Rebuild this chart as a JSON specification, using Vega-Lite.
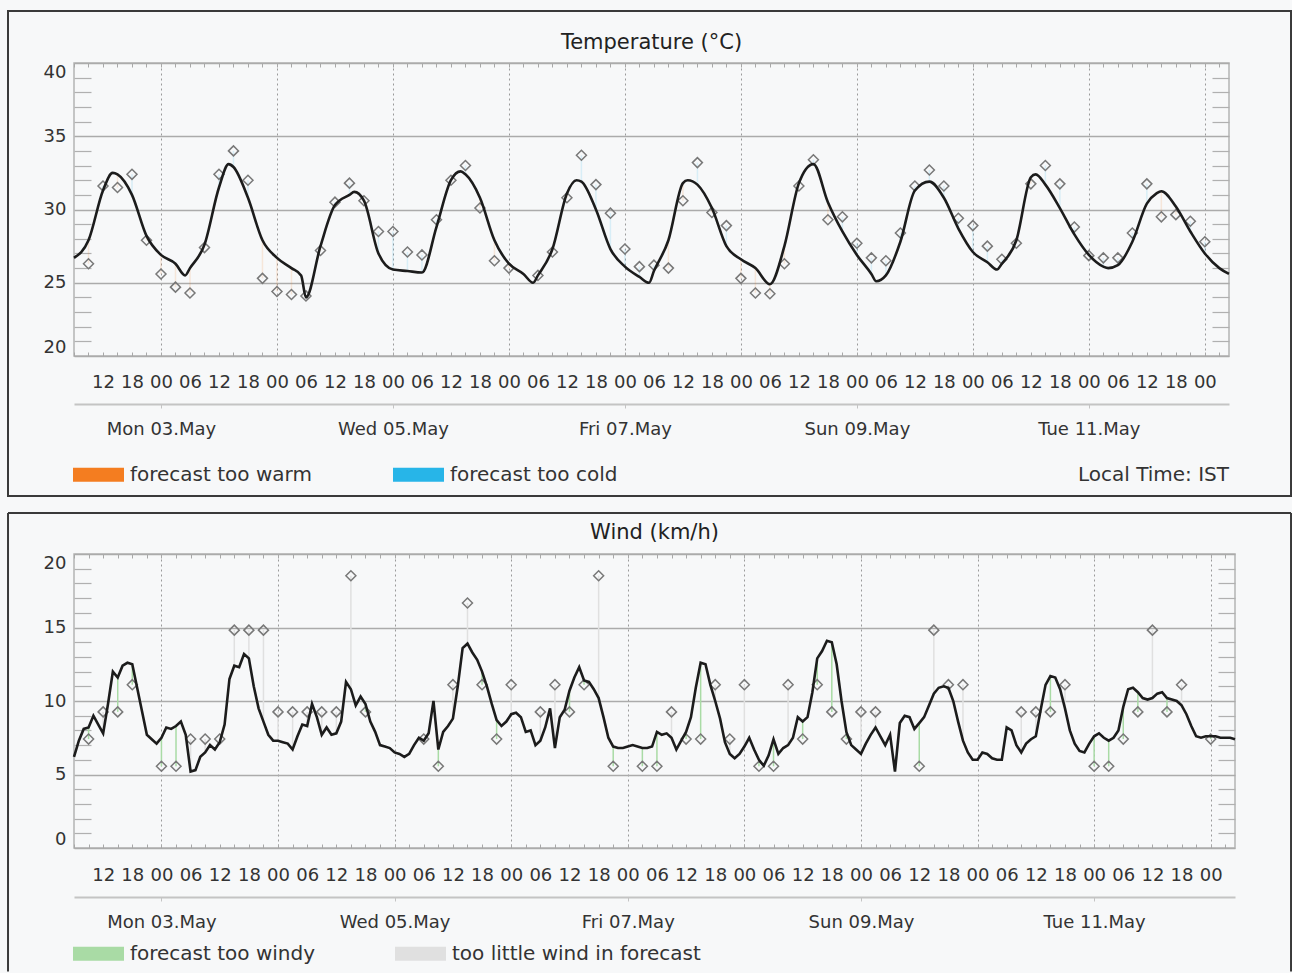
{
  "$schema": "https://vega.github.io/schema/vega-lite/v6.json",
  "background": "#f7f8f9",
  "padding": {"left": 6, "top": 9, "right": 0, "bottom": 0},
  "spacing": 198,
  "bounds": "flush",
  "resolve": {"scale": {"x": "independent", "y": "independent", "color": "independent"}},
  "config": {
    "view": {"stroke": "#b4b4b4", "strokeWidth": 1.5},
    "font": "DejaVu Sans",
    "axis": {"labelFont": "DejaVu Sans", "labelFontSize": 18, "labelColor": "#333333"}
  },
  "datasets": {
    "tfc": [
      {"t": "2021-05-02T06:00", "fc": 26.7}, {"t": "2021-05-02T09:00", "fc": 27.9}, {"t": "2021-05-02T12:00", "fc": 31.3}, {"t": "2021-05-02T14:00", "fc": 32.5}, {"t": "2021-05-02T15:00", "fc": 32.4}, {"t": "2021-05-02T18:00", "fc": 31.0}, {"t": "2021-05-02T21:00", "fc": 28.2},
      {"t": "2021-05-03T00:00", "fc": 26.9}, {"t": "2021-05-03T03:00", "fc": 26.3}, {"t": "2021-05-03T05:00", "fc": 25.5}, {"t": "2021-05-03T06:00", "fc": 26.0}, {"t": "2021-05-03T09:00", "fc": 27.6}, {"t": "2021-05-03T12:00", "fc": 31.5}, {"t": "2021-05-03T14:00", "fc": 33.1}, {"t": "2021-05-03T15:00", "fc": 32.9}, {"t": "2021-05-03T18:00", "fc": 30.8}, {"t": "2021-05-03T21:00", "fc": 27.9},
      {"t": "2021-05-04T00:00", "fc": 26.7}, {"t": "2021-05-04T03:00", "fc": 26.0}, {"t": "2021-05-04T05:00", "fc": 25.5}, {"t": "2021-05-04T06:00", "fc": 24.0}, {"t": "2021-05-04T09:00", "fc": 27.5}, {"t": "2021-05-04T12:00", "fc": 30.3}, {"t": "2021-05-04T15:00", "fc": 31.0}, {"t": "2021-05-04T16:00", "fc": 31.2}, {"t": "2021-05-04T18:00", "fc": 30.6}, {"t": "2021-05-04T21:00", "fc": 27.0},
      {"t": "2021-05-05T00:00", "fc": 25.9}, {"t": "2021-05-05T03:00", "fc": 25.8}, {"t": "2021-05-05T06:00", "fc": 25.7}, {"t": "2021-05-05T09:00", "fc": 28.8}, {"t": "2021-05-05T12:00", "fc": 32.0}, {"t": "2021-05-05T14:00", "fc": 32.6}, {"t": "2021-05-05T15:00", "fc": 32.4}, {"t": "2021-05-05T18:00", "fc": 30.8}, {"t": "2021-05-05T21:00", "fc": 27.9},
      {"t": "2021-05-06T00:00", "fc": 26.3}, {"t": "2021-05-06T03:00", "fc": 25.6}, {"t": "2021-05-06T05:00", "fc": 25.0}, {"t": "2021-05-06T06:00", "fc": 25.5}, {"t": "2021-05-06T09:00", "fc": 27.3}, {"t": "2021-05-06T12:00", "fc": 31.1}, {"t": "2021-05-06T14:00", "fc": 32.0}, {"t": "2021-05-06T15:00", "fc": 31.9}, {"t": "2021-05-06T18:00", "fc": 30.0}, {"t": "2021-05-06T21:00", "fc": 27.3},
      {"t": "2021-05-07T00:00", "fc": 26.1}, {"t": "2021-05-07T03:00", "fc": 25.4}, {"t": "2021-05-07T05:00", "fc": 25.0}, {"t": "2021-05-07T06:00", "fc": 25.8}, {"t": "2021-05-07T09:00", "fc": 27.9}, {"t": "2021-05-07T12:00", "fc": 31.8}, {"t": "2021-05-07T13:00", "fc": 32.0}, {"t": "2021-05-07T15:00", "fc": 31.7}, {"t": "2021-05-07T18:00", "fc": 30.1}, {"t": "2021-05-07T21:00", "fc": 27.5},
      {"t": "2021-05-08T00:00", "fc": 26.6}, {"t": "2021-05-08T03:00", "fc": 26.0}, {"t": "2021-05-08T06:00", "fc": 24.9}, {"t": "2021-05-08T09:00", "fc": 27.5}, {"t": "2021-05-08T12:00", "fc": 31.8}, {"t": "2021-05-08T15:00", "fc": 33.1}, {"t": "2021-05-08T18:00", "fc": 30.5}, {"t": "2021-05-08T21:00", "fc": 28.5},
      {"t": "2021-05-09T00:00", "fc": 26.9}, {"t": "2021-05-09T03:00", "fc": 25.6}, {"t": "2021-05-09T04:00", "fc": 25.1}, {"t": "2021-05-09T06:00", "fc": 25.5}, {"t": "2021-05-09T09:00", "fc": 27.8}, {"t": "2021-05-09T12:00", "fc": 31.3}, {"t": "2021-05-09T15:00", "fc": 31.9}, {"t": "2021-05-09T18:00", "fc": 30.8}, {"t": "2021-05-09T21:00", "fc": 28.7},
      {"t": "2021-05-10T00:00", "fc": 27.1}, {"t": "2021-05-10T03:00", "fc": 26.4}, {"t": "2021-05-10T05:00", "fc": 25.9}, {"t": "2021-05-10T06:00", "fc": 26.3}, {"t": "2021-05-10T09:00", "fc": 27.9}, {"t": "2021-05-10T12:00", "fc": 32.2}, {"t": "2021-05-10T13:00", "fc": 32.4}, {"t": "2021-05-10T15:00", "fc": 31.7}, {"t": "2021-05-10T18:00", "fc": 30.1}, {"t": "2021-05-10T21:00", "fc": 28.3},
      {"t": "2021-05-11T00:00", "fc": 26.9}, {"t": "2021-05-11T03:00", "fc": 26.1}, {"t": "2021-05-11T04:00", "fc": 26.0}, {"t": "2021-05-11T06:00", "fc": 26.2}, {"t": "2021-05-11T09:00", "fc": 27.8}, {"t": "2021-05-11T12:00", "fc": 30.4}, {"t": "2021-05-11T14:00", "fc": 31.1}, {"t": "2021-05-11T15:00", "fc": 31.25}, {"t": "2021-05-11T18:00", "fc": 30.2}, {"t": "2021-05-11T21:00", "fc": 28.5},
      {"t": "2021-05-12T00:00", "fc": 27.0}, {"t": "2021-05-12T03:00", "fc": 26.0}, {"t": "2021-05-12T05:00", "fc": 25.6}
    ],
    "tobs": [
      {"t": "2021-05-02T09:00", "obs": 26.3, "fc": 27.9, "k": "forecast too warm"}, {"t": "2021-05-02T12:00", "obs": 31.6, "fc": 31.3, "k": "forecast too cold"}, {"t": "2021-05-02T15:00", "obs": 31.5, "fc": 32.4, "k": "forecast too warm"}, {"t": "2021-05-02T18:00", "obs": 32.4, "fc": 31.0, "k": "forecast too cold"}, {"t": "2021-05-02T21:00", "obs": 27.9, "fc": 28.2, "k": "forecast too warm"},
      {"t": "2021-05-03T00:00", "obs": 25.6, "fc": 26.9, "k": "forecast too warm"}, {"t": "2021-05-03T03:00", "obs": 24.7, "fc": 26.3, "k": "forecast too warm"}, {"t": "2021-05-03T06:00", "obs": 24.3, "fc": 26.0, "k": "forecast too warm"}, {"t": "2021-05-03T09:00", "obs": 27.4, "fc": 27.6, "k": "forecast too warm"}, {"t": "2021-05-03T12:00", "obs": 32.4, "fc": 31.5, "k": "forecast too cold"}, {"t": "2021-05-03T15:00", "obs": 34.0, "fc": 32.9, "k": "forecast too cold"}, {"t": "2021-05-03T18:00", "obs": 32.0, "fc": 30.8, "k": "forecast too cold"}, {"t": "2021-05-03T21:00", "obs": 25.3, "fc": 27.9, "k": "forecast too warm"},
      {"t": "2021-05-04T00:00", "obs": 24.4, "fc": 26.7, "k": "forecast too warm"}, {"t": "2021-05-04T03:00", "obs": 24.2, "fc": 26.0, "k": "forecast too warm"}, {"t": "2021-05-04T06:00", "obs": 24.1, "fc": 24.0, "k": "forecast too cold"}, {"t": "2021-05-04T09:00", "obs": 27.2, "fc": 27.5, "k": "forecast too warm"}, {"t": "2021-05-04T12:00", "obs": 30.5, "fc": 30.3, "k": "forecast too cold"}, {"t": "2021-05-04T15:00", "obs": 31.8, "fc": 31.0, "k": "forecast too cold"}, {"t": "2021-05-04T18:00", "obs": 30.6, "fc": 30.6, "k": "forecast too cold"}, {"t": "2021-05-04T21:00", "obs": 28.5, "fc": 27.0, "k": "forecast too cold"},
      {"t": "2021-05-05T00:00", "obs": 28.5, "fc": 25.9, "k": "forecast too cold"}, {"t": "2021-05-05T03:00", "obs": 27.1, "fc": 25.8, "k": "forecast too cold"}, {"t": "2021-05-05T06:00", "obs": 26.9, "fc": 25.7, "k": "forecast too cold"}, {"t": "2021-05-05T09:00", "obs": 29.3, "fc": 28.8, "k": "forecast too cold"}, {"t": "2021-05-05T12:00", "obs": 32.0, "fc": 32.0, "k": "forecast too cold"}, {"t": "2021-05-05T15:00", "obs": 33.0, "fc": 32.4, "k": "forecast too cold"}, {"t": "2021-05-05T18:00", "obs": 30.1, "fc": 30.8, "k": "forecast too warm"}, {"t": "2021-05-05T21:00", "obs": 26.5, "fc": 27.9, "k": "forecast too warm"},
      {"t": "2021-05-06T00:00", "obs": 26.0, "fc": 26.3, "k": "forecast too warm"}, {"t": "2021-05-06T06:00", "obs": 25.5, "fc": 25.5, "k": "forecast too warm"}, {"t": "2021-05-06T09:00", "obs": 27.1, "fc": 27.3, "k": "forecast too warm"}, {"t": "2021-05-06T12:00", "obs": 30.8, "fc": 31.1, "k": "forecast too warm"}, {"t": "2021-05-06T15:00", "obs": 33.7, "fc": 31.9, "k": "forecast too cold"}, {"t": "2021-05-06T18:00", "obs": 31.7, "fc": 30.0, "k": "forecast too cold"}, {"t": "2021-05-06T21:00", "obs": 29.75, "fc": 27.3, "k": "forecast too cold"},
      {"t": "2021-05-07T00:00", "obs": 27.3, "fc": 26.1, "k": "forecast too cold"}, {"t": "2021-05-07T03:00", "obs": 26.1, "fc": 25.4, "k": "forecast too cold"}, {"t": "2021-05-07T06:00", "obs": 26.2, "fc": 25.8, "k": "forecast too cold"}, {"t": "2021-05-07T09:00", "obs": 26.0, "fc": 27.9, "k": "forecast too warm"}, {"t": "2021-05-07T12:00", "obs": 30.6, "fc": 31.8, "k": "forecast too warm"}, {"t": "2021-05-07T15:00", "obs": 33.2, "fc": 31.7, "k": "forecast too cold"}, {"t": "2021-05-07T18:00", "obs": 29.8, "fc": 30.1, "k": "forecast too warm"}, {"t": "2021-05-07T21:00", "obs": 28.9, "fc": 27.5, "k": "forecast too cold"},
      {"t": "2021-05-08T00:00", "obs": 25.3, "fc": 26.6, "k": "forecast too warm"}, {"t": "2021-05-08T03:00", "obs": 24.3, "fc": 26.0, "k": "forecast too warm"}, {"t": "2021-05-08T06:00", "obs": 24.25, "fc": 24.9, "k": "forecast too warm"}, {"t": "2021-05-08T09:00", "obs": 26.3, "fc": 27.5, "k": "forecast too warm"}, {"t": "2021-05-08T12:00", "obs": 31.6, "fc": 31.8, "k": "forecast too warm"}, {"t": "2021-05-08T15:00", "obs": 33.4, "fc": 33.1, "k": "forecast too cold"}, {"t": "2021-05-08T18:00", "obs": 29.3, "fc": 30.5, "k": "forecast too warm"}, {"t": "2021-05-08T21:00", "obs": 29.5, "fc": 28.5, "k": "forecast too cold"},
      {"t": "2021-05-09T00:00", "obs": 27.7, "fc": 26.9, "k": "forecast too cold"}, {"t": "2021-05-09T03:00", "obs": 26.7, "fc": 25.6, "k": "forecast too cold"}, {"t": "2021-05-09T06:00", "obs": 26.5, "fc": 25.5, "k": "forecast too cold"}, {"t": "2021-05-09T09:00", "obs": 28.4, "fc": 27.8, "k": "forecast too cold"}, {"t": "2021-05-09T12:00", "obs": 31.6, "fc": 31.3, "k": "forecast too cold"}, {"t": "2021-05-09T15:00", "obs": 32.7, "fc": 31.9, "k": "forecast too cold"}, {"t": "2021-05-09T18:00", "obs": 31.6, "fc": 30.8, "k": "forecast too cold"}, {"t": "2021-05-09T21:00", "obs": 29.4, "fc": 28.7, "k": "forecast too cold"},
      {"t": "2021-05-10T00:00", "obs": 28.9, "fc": 27.1, "k": "forecast too cold"}, {"t": "2021-05-10T03:00", "obs": 27.5, "fc": 26.4, "k": "forecast too cold"}, {"t": "2021-05-10T06:00", "obs": 26.6, "fc": 26.3, "k": "forecast too cold"}, {"t": "2021-05-10T09:00", "obs": 27.7, "fc": 27.9, "k": "forecast too warm"}, {"t": "2021-05-10T12:00", "obs": 31.75, "fc": 32.2, "k": "forecast too warm"}, {"t": "2021-05-10T15:00", "obs": 33.0, "fc": 31.7, "k": "forecast too cold"}, {"t": "2021-05-10T18:00", "obs": 31.75, "fc": 30.1, "k": "forecast too cold"}, {"t": "2021-05-10T21:00", "obs": 28.8, "fc": 28.3, "k": "forecast too cold"},
      {"t": "2021-05-11T00:00", "obs": 26.85, "fc": 26.9, "k": "forecast too warm"}, {"t": "2021-05-11T03:00", "obs": 26.7, "fc": 26.1, "k": "forecast too cold"}, {"t": "2021-05-11T06:00", "obs": 26.7, "fc": 26.2, "k": "forecast too cold"}, {"t": "2021-05-11T09:00", "obs": 28.4, "fc": 27.8, "k": "forecast too cold"}, {"t": "2021-05-11T12:00", "obs": 31.75, "fc": 30.4, "k": "forecast too cold"}, {"t": "2021-05-11T15:00", "obs": 29.5, "fc": 31.25, "k": "forecast too warm"}, {"t": "2021-05-11T18:00", "obs": 29.65, "fc": 30.2, "k": "forecast too warm"}, {"t": "2021-05-11T21:00", "obs": 29.2, "fc": 28.5, "k": "forecast too cold"},
      {"t": "2021-05-12T00:00", "obs": 27.8, "fc": 27.0, "k": "forecast too cold"}
    ],
    "wfc": [
      {"t": "2021-05-02T06:00", "v": 6.2}, {"t": "2021-05-02T07:00", "v": 7.3}, {"t": "2021-05-02T08:00", "v": 8.1}, {"t": "2021-05-02T09:00", "v": 8.2}, {"t": "2021-05-02T10:00", "v": 9.0}, {"t": "2021-05-02T11:00", "v": 8.4}, {"t": "2021-05-02T12:00", "v": 7.8}, {"t": "2021-05-02T13:00", "v": 9.8}, {"t": "2021-05-02T14:00", "v": 12.0}, {"t": "2021-05-02T15:00", "v": 11.6}, {"t": "2021-05-02T16:00", "v": 12.4}, {"t": "2021-05-02T17:00", "v": 12.6}, {"t": "2021-05-02T18:00", "v": 12.5}, {"t": "2021-05-02T19:00", "v": 10.9}, {"t": "2021-05-02T20:00", "v": 9.3}, {"t": "2021-05-02T21:00", "v": 7.7}, {"t": "2021-05-02T22:00", "v": 7.4}, {"t": "2021-05-02T23:00", "v": 7.1},
      {"t": "2021-05-03T00:00", "v": 7.5}, {"t": "2021-05-03T01:00", "v": 8.2}, {"t": "2021-05-03T02:00", "v": 8.1}, {"t": "2021-05-03T03:00", "v": 8.3}, {"t": "2021-05-03T04:00", "v": 8.6}, {"t": "2021-05-03T05:00", "v": 7.7}, {"t": "2021-05-03T06:00", "v": 5.2}, {"t": "2021-05-03T07:00", "v": 5.3}, {"t": "2021-05-03T08:00", "v": 6.2}, {"t": "2021-05-03T09:00", "v": 6.5}, {"t": "2021-05-03T10:00", "v": 7.0}, {"t": "2021-05-03T11:00", "v": 6.7}, {"t": "2021-05-03T12:00", "v": 7.2}, {"t": "2021-05-03T13:00", "v": 8.4}, {"t": "2021-05-03T14:00", "v": 11.5}, {"t": "2021-05-03T15:00", "v": 12.4}, {"t": "2021-05-03T16:00", "v": 12.3}, {"t": "2021-05-03T17:00", "v": 13.2}, {"t": "2021-05-03T18:00", "v": 12.9}, {"t": "2021-05-03T19:00", "v": 11.0}, {"t": "2021-05-03T20:00", "v": 9.5}, {"t": "2021-05-03T21:00", "v": 8.6}, {"t": "2021-05-03T22:00", "v": 7.7}, {"t": "2021-05-03T23:00", "v": 7.3},
      {"t": "2021-05-04T00:00", "v": 7.3}, {"t": "2021-05-04T01:00", "v": 7.2}, {"t": "2021-05-04T02:00", "v": 7.1}, {"t": "2021-05-04T03:00", "v": 6.7}, {"t": "2021-05-04T04:00", "v": 7.6}, {"t": "2021-05-04T05:00", "v": 8.4}, {"t": "2021-05-04T06:00", "v": 8.3}, {"t": "2021-05-04T07:00", "v": 9.8}, {"t": "2021-05-04T08:00", "v": 8.9}, {"t": "2021-05-04T09:00", "v": 7.7}, {"t": "2021-05-04T10:00", "v": 8.2}, {"t": "2021-05-04T11:00", "v": 7.7}, {"t": "2021-05-04T12:00", "v": 7.8}, {"t": "2021-05-04T13:00", "v": 8.6}, {"t": "2021-05-04T14:00", "v": 11.3}, {"t": "2021-05-04T15:00", "v": 10.8}, {"t": "2021-05-04T16:00", "v": 9.7}, {"t": "2021-05-04T17:00", "v": 10.3}, {"t": "2021-05-04T18:00", "v": 9.8}, {"t": "2021-05-04T19:00", "v": 8.6}, {"t": "2021-05-04T20:00", "v": 7.9}, {"t": "2021-05-04T21:00", "v": 7.0}, {"t": "2021-05-04T22:00", "v": 6.9}, {"t": "2021-05-04T23:00", "v": 6.8},
      {"t": "2021-05-05T00:00", "v": 6.5}, {"t": "2021-05-05T01:00", "v": 6.4}, {"t": "2021-05-05T02:00", "v": 6.2}, {"t": "2021-05-05T03:00", "v": 6.4}, {"t": "2021-05-05T04:00", "v": 7.0}, {"t": "2021-05-05T05:00", "v": 7.5}, {"t": "2021-05-05T06:00", "v": 7.3}, {"t": "2021-05-05T07:00", "v": 7.8}, {"t": "2021-05-05T08:00", "v": 10.0}, {"t": "2021-05-05T09:00", "v": 6.7}, {"t": "2021-05-05T10:00", "v": 7.9}, {"t": "2021-05-05T11:00", "v": 8.3}, {"t": "2021-05-05T12:00", "v": 8.8}, {"t": "2021-05-05T13:00", "v": 11.0}, {"t": "2021-05-05T14:00", "v": 13.6}, {"t": "2021-05-05T15:00", "v": 13.9}, {"t": "2021-05-05T16:00", "v": 13.3}, {"t": "2021-05-05T17:00", "v": 12.8}, {"t": "2021-05-05T18:00", "v": 12.0}, {"t": "2021-05-05T19:00", "v": 11.0}, {"t": "2021-05-05T20:00", "v": 9.8}, {"t": "2021-05-05T21:00", "v": 8.7}, {"t": "2021-05-05T22:00", "v": 8.3}, {"t": "2021-05-05T23:00", "v": 8.6},
      {"t": "2021-05-06T00:00", "v": 9.1}, {"t": "2021-05-06T01:00", "v": 9.2}, {"t": "2021-05-06T02:00", "v": 8.9}, {"t": "2021-05-06T03:00", "v": 7.9}, {"t": "2021-05-06T04:00", "v": 8.0}, {"t": "2021-05-06T05:00", "v": 7.0}, {"t": "2021-05-06T06:00", "v": 7.3}, {"t": "2021-05-06T07:00", "v": 8.2}, {"t": "2021-05-06T08:00", "v": 9.5}, {"t": "2021-05-06T09:00", "v": 6.8}, {"t": "2021-05-06T10:00", "v": 8.9}, {"t": "2021-05-06T11:00", "v": 9.4}, {"t": "2021-05-06T12:00", "v": 10.7}, {"t": "2021-05-06T13:00", "v": 11.6}, {"t": "2021-05-06T14:00", "v": 12.3}, {"t": "2021-05-06T15:00", "v": 11.4}, {"t": "2021-05-06T16:00", "v": 11.3}, {"t": "2021-05-06T17:00", "v": 10.8}, {"t": "2021-05-06T18:00", "v": 10.2}, {"t": "2021-05-06T19:00", "v": 8.9}, {"t": "2021-05-06T20:00", "v": 7.5}, {"t": "2021-05-06T21:00", "v": 6.9}, {"t": "2021-05-06T22:00", "v": 6.8}, {"t": "2021-05-06T23:00", "v": 6.8},
      {"t": "2021-05-07T00:00", "v": 6.9}, {"t": "2021-05-07T01:00", "v": 7.0}, {"t": "2021-05-07T02:00", "v": 6.9}, {"t": "2021-05-07T03:00", "v": 6.8}, {"t": "2021-05-07T04:00", "v": 6.8}, {"t": "2021-05-07T05:00", "v": 6.9}, {"t": "2021-05-07T06:00", "v": 7.9}, {"t": "2021-05-07T07:00", "v": 7.7}, {"t": "2021-05-07T08:00", "v": 7.8}, {"t": "2021-05-07T09:00", "v": 7.5}, {"t": "2021-05-07T10:00", "v": 6.7}, {"t": "2021-05-07T11:00", "v": 7.3}, {"t": "2021-05-07T12:00", "v": 7.9}, {"t": "2021-05-07T13:00", "v": 8.9}, {"t": "2021-05-07T14:00", "v": 10.9}, {"t": "2021-05-07T15:00", "v": 12.6}, {"t": "2021-05-07T16:00", "v": 12.5}, {"t": "2021-05-07T17:00", "v": 11.1}, {"t": "2021-05-07T18:00", "v": 10.0}, {"t": "2021-05-07T19:00", "v": 8.8}, {"t": "2021-05-07T20:00", "v": 7.2}, {"t": "2021-05-07T21:00", "v": 6.4}, {"t": "2021-05-07T22:00", "v": 6.1}, {"t": "2021-05-07T23:00", "v": 6.4},
      {"t": "2021-05-08T00:00", "v": 6.9}, {"t": "2021-05-08T01:00", "v": 7.5}, {"t": "2021-05-08T02:00", "v": 6.7}, {"t": "2021-05-08T03:00", "v": 6.0}, {"t": "2021-05-08T04:00", "v": 5.6}, {"t": "2021-05-08T05:00", "v": 6.3}, {"t": "2021-05-08T06:00", "v": 7.4}, {"t": "2021-05-08T07:00", "v": 6.4}, {"t": "2021-05-08T08:00", "v": 6.8}, {"t": "2021-05-08T09:00", "v": 7.0}, {"t": "2021-05-08T10:00", "v": 7.5}, {"t": "2021-05-08T11:00", "v": 8.9}, {"t": "2021-05-08T12:00", "v": 8.6}, {"t": "2021-05-08T13:00", "v": 8.9}, {"t": "2021-05-08T14:00", "v": 10.6}, {"t": "2021-05-08T15:00", "v": 12.9}, {"t": "2021-05-08T16:00", "v": 13.4}, {"t": "2021-05-08T17:00", "v": 14.1}, {"t": "2021-05-08T18:00", "v": 14.0}, {"t": "2021-05-08T19:00", "v": 12.5}, {"t": "2021-05-08T20:00", "v": 10.0}, {"t": "2021-05-08T21:00", "v": 7.9}, {"t": "2021-05-08T22:00", "v": 7.0}, {"t": "2021-05-08T23:00", "v": 6.7},
      {"t": "2021-05-09T00:00", "v": 6.4}, {"t": "2021-05-09T01:00", "v": 7.1}, {"t": "2021-05-09T02:00", "v": 7.7}, {"t": "2021-05-09T03:00", "v": 8.2}, {"t": "2021-05-09T04:00", "v": 7.6}, {"t": "2021-05-09T05:00", "v": 7.0}, {"t": "2021-05-09T06:00", "v": 7.7}, {"t": "2021-05-09T07:00", "v": 5.2}, {"t": "2021-05-09T08:00", "v": 8.5}, {"t": "2021-05-09T09:00", "v": 9.0}, {"t": "2021-05-09T10:00", "v": 8.9}, {"t": "2021-05-09T11:00", "v": 8.1}, {"t": "2021-05-09T12:00", "v": 8.5}, {"t": "2021-05-09T13:00", "v": 8.9}, {"t": "2021-05-09T14:00", "v": 9.7}, {"t": "2021-05-09T15:00", "v": 10.5}, {"t": "2021-05-09T16:00", "v": 10.9}, {"t": "2021-05-09T17:00", "v": 11.0}, {"t": "2021-05-09T18:00", "v": 10.9}, {"t": "2021-05-09T19:00", "v": 10.0}, {"t": "2021-05-09T20:00", "v": 8.6}, {"t": "2021-05-09T21:00", "v": 7.3}, {"t": "2021-05-09T22:00", "v": 6.5}, {"t": "2021-05-09T23:00", "v": 6.0},
      {"t": "2021-05-10T00:00", "v": 6.0}, {"t": "2021-05-10T01:00", "v": 6.5}, {"t": "2021-05-10T02:00", "v": 6.4}, {"t": "2021-05-10T03:00", "v": 6.1}, {"t": "2021-05-10T04:00", "v": 6.0}, {"t": "2021-05-10T05:00", "v": 6.0}, {"t": "2021-05-10T06:00", "v": 8.2}, {"t": "2021-05-10T07:00", "v": 8.0}, {"t": "2021-05-10T08:00", "v": 7.0}, {"t": "2021-05-10T09:00", "v": 6.5}, {"t": "2021-05-10T10:00", "v": 7.1}, {"t": "2021-05-10T11:00", "v": 7.4}, {"t": "2021-05-10T12:00", "v": 7.6}, {"t": "2021-05-10T13:00", "v": 9.4}, {"t": "2021-05-10T14:00", "v": 11.1}, {"t": "2021-05-10T15:00", "v": 11.7}, {"t": "2021-05-10T16:00", "v": 11.6}, {"t": "2021-05-10T17:00", "v": 10.8}, {"t": "2021-05-10T18:00", "v": 9.5}, {"t": "2021-05-10T19:00", "v": 8.0}, {"t": "2021-05-10T20:00", "v": 7.1}, {"t": "2021-05-10T21:00", "v": 6.6}, {"t": "2021-05-10T22:00", "v": 6.5}, {"t": "2021-05-10T23:00", "v": 7.1},
      {"t": "2021-05-11T00:00", "v": 7.6}, {"t": "2021-05-11T01:00", "v": 7.8}, {"t": "2021-05-11T02:00", "v": 7.5}, {"t": "2021-05-11T03:00", "v": 7.3}, {"t": "2021-05-11T04:00", "v": 7.5}, {"t": "2021-05-11T05:00", "v": 8.0}, {"t": "2021-05-11T06:00", "v": 9.6}, {"t": "2021-05-11T07:00", "v": 10.8}, {"t": "2021-05-11T08:00", "v": 10.9}, {"t": "2021-05-11T09:00", "v": 10.6}, {"t": "2021-05-11T10:00", "v": 10.2}, {"t": "2021-05-11T11:00", "v": 10.1}, {"t": "2021-05-11T12:00", "v": 10.2}, {"t": "2021-05-11T13:00", "v": 10.5}, {"t": "2021-05-11T14:00", "v": 10.6}, {"t": "2021-05-11T15:00", "v": 10.2}, {"t": "2021-05-11T16:00", "v": 10.1}, {"t": "2021-05-11T17:00", "v": 10.0}, {"t": "2021-05-11T18:00", "v": 9.7}, {"t": "2021-05-11T19:00", "v": 9.1}, {"t": "2021-05-11T20:00", "v": 8.3}, {"t": "2021-05-11T21:00", "v": 7.6}, {"t": "2021-05-11T22:00", "v": 7.5}, {"t": "2021-05-11T23:00", "v": 7.6},
      {"t": "2021-05-12T00:00", "v": 7.6}, {"t": "2021-05-12T01:00", "v": 7.6}, {"t": "2021-05-12T02:00", "v": 7.5}, {"t": "2021-05-12T03:00", "v": 7.5}, {"t": "2021-05-12T04:00", "v": 7.5}, {"t": "2021-05-12T05:00", "v": 7.4}
    ],
    "wobs": [
      {"t": "2021-05-02T09:00", "obs": 7.41, "fc": 8.2, "k": "forecast too windy"}, {"t": "2021-05-02T12:00", "obs": 9.26, "fc": 7.8, "k": "too little wind in forecast"}, {"t": "2021-05-02T15:00", "obs": 9.26, "fc": 11.6, "k": "forecast too windy"}, {"t": "2021-05-02T18:00", "obs": 11.11, "fc": 12.5, "k": "forecast too windy"},
      {"t": "2021-05-03T00:00", "obs": 5.56, "fc": 7.5, "k": "forecast too windy"}, {"t": "2021-05-03T03:00", "obs": 5.56, "fc": 8.3, "k": "forecast too windy"}, {"t": "2021-05-03T06:00", "obs": 7.41, "fc": 5.2, "k": "too little wind in forecast"}, {"t": "2021-05-03T09:00", "obs": 7.41, "fc": 6.5, "k": "too little wind in forecast"}, {"t": "2021-05-03T12:00", "obs": 7.41, "fc": 7.2, "k": "too little wind in forecast"}, {"t": "2021-05-03T15:00", "obs": 14.82, "fc": 12.4, "k": "too little wind in forecast"}, {"t": "2021-05-03T18:00", "obs": 14.82, "fc": 12.9, "k": "too little wind in forecast"}, {"t": "2021-05-03T21:00", "obs": 14.82, "fc": 8.6, "k": "too little wind in forecast"},
      {"t": "2021-05-04T00:00", "obs": 9.26, "fc": 7.3, "k": "too little wind in forecast"}, {"t": "2021-05-04T03:00", "obs": 9.26, "fc": 6.7, "k": "too little wind in forecast"}, {"t": "2021-05-04T06:00", "obs": 9.26, "fc": 8.3, "k": "too little wind in forecast"}, {"t": "2021-05-04T09:00", "obs": 9.26, "fc": 7.7, "k": "too little wind in forecast"}, {"t": "2021-05-04T12:00", "obs": 9.26, "fc": 7.8, "k": "too little wind in forecast"}, {"t": "2021-05-04T15:00", "obs": 18.52, "fc": 10.8, "k": "too little wind in forecast"}, {"t": "2021-05-04T18:00", "obs": 9.26, "fc": 9.8, "k": "forecast too windy"},
      {"t": "2021-05-05T06:00", "obs": 7.41, "fc": 7.3, "k": "too little wind in forecast"}, {"t": "2021-05-05T09:00", "obs": 5.56, "fc": 6.7, "k": "forecast too windy"}, {"t": "2021-05-05T12:00", "obs": 11.11, "fc": 8.8, "k": "too little wind in forecast"}, {"t": "2021-05-05T15:00", "obs": 16.67, "fc": 13.9, "k": "too little wind in forecast"}, {"t": "2021-05-05T18:00", "obs": 11.11, "fc": 12.0, "k": "forecast too windy"}, {"t": "2021-05-05T21:00", "obs": 7.41, "fc": 8.7, "k": "forecast too windy"},
      {"t": "2021-05-06T00:00", "obs": 11.11, "fc": 9.1, "k": "too little wind in forecast"}, {"t": "2021-05-06T06:00", "obs": 9.26, "fc": 7.3, "k": "too little wind in forecast"}, {"t": "2021-05-06T09:00", "obs": 11.11, "fc": 6.8, "k": "too little wind in forecast"}, {"t": "2021-05-06T12:00", "obs": 9.26, "fc": 10.7, "k": "forecast too windy"}, {"t": "2021-05-06T15:00", "obs": 11.11, "fc": 11.4, "k": "forecast too windy"}, {"t": "2021-05-06T18:00", "obs": 18.52, "fc": 10.2, "k": "too little wind in forecast"}, {"t": "2021-05-06T21:00", "obs": 5.56, "fc": 6.9, "k": "forecast too windy"},
      {"t": "2021-05-07T03:00", "obs": 5.56, "fc": 6.8, "k": "forecast too windy"}, {"t": "2021-05-07T06:00", "obs": 5.56, "fc": 7.9, "k": "forecast too windy"}, {"t": "2021-05-07T09:00", "obs": 9.26, "fc": 7.5, "k": "too little wind in forecast"}, {"t": "2021-05-07T12:00", "obs": 7.41, "fc": 7.9, "k": "forecast too windy"}, {"t": "2021-05-07T15:00", "obs": 7.41, "fc": 12.6, "k": "forecast too windy"}, {"t": "2021-05-07T18:00", "obs": 11.11, "fc": 10.0, "k": "too little wind in forecast"}, {"t": "2021-05-07T21:00", "obs": 7.41, "fc": 6.4, "k": "too little wind in forecast"},
      {"t": "2021-05-08T00:00", "obs": 11.11, "fc": 6.9, "k": "too little wind in forecast"}, {"t": "2021-05-08T03:00", "obs": 5.56, "fc": 6.0, "k": "forecast too windy"}, {"t": "2021-05-08T06:00", "obs": 5.56, "fc": 7.4, "k": "forecast too windy"}, {"t": "2021-05-08T09:00", "obs": 11.11, "fc": 7.0, "k": "too little wind in forecast"}, {"t": "2021-05-08T12:00", "obs": 7.41, "fc": 8.6, "k": "forecast too windy"}, {"t": "2021-05-08T15:00", "obs": 11.11, "fc": 12.9, "k": "forecast too windy"}, {"t": "2021-05-08T18:00", "obs": 9.26, "fc": 14.0, "k": "forecast too windy"}, {"t": "2021-05-08T21:00", "obs": 7.41, "fc": 7.9, "k": "forecast too windy"},
      {"t": "2021-05-09T00:00", "obs": 9.26, "fc": 6.4, "k": "too little wind in forecast"}, {"t": "2021-05-09T03:00", "obs": 9.26, "fc": 8.2, "k": "too little wind in forecast"}, {"t": "2021-05-09T12:00", "obs": 5.56, "fc": 8.5, "k": "forecast too windy"}, {"t": "2021-05-09T15:00", "obs": 14.82, "fc": 10.5, "k": "too little wind in forecast"}, {"t": "2021-05-09T18:00", "obs": 11.11, "fc": 10.9, "k": "too little wind in forecast"}, {"t": "2021-05-09T21:00", "obs": 11.11, "fc": 7.3, "k": "too little wind in forecast"},
      {"t": "2021-05-10T09:00", "obs": 9.26, "fc": 6.5, "k": "too little wind in forecast"}, {"t": "2021-05-10T12:00", "obs": 9.26, "fc": 7.6, "k": "too little wind in forecast"}, {"t": "2021-05-10T15:00", "obs": 9.26, "fc": 11.7, "k": "forecast too windy"}, {"t": "2021-05-10T18:00", "obs": 11.11, "fc": 9.5, "k": "too little wind in forecast"},
      {"t": "2021-05-11T00:00", "obs": 5.56, "fc": 7.6, "k": "forecast too windy"}, {"t": "2021-05-11T03:00", "obs": 5.56, "fc": 7.3, "k": "forecast too windy"}, {"t": "2021-05-11T06:00", "obs": 7.41, "fc": 9.6, "k": "forecast too windy"}, {"t": "2021-05-11T09:00", "obs": 9.26, "fc": 10.6, "k": "forecast too windy"}, {"t": "2021-05-11T12:00", "obs": 14.82, "fc": 10.2, "k": "too little wind in forecast"}, {"t": "2021-05-11T15:00", "obs": 9.26, "fc": 10.2, "k": "forecast too windy"}, {"t": "2021-05-11T18:00", "obs": 11.11, "fc": 9.7, "k": "too little wind in forecast"},
      {"t": "2021-05-12T00:00", "obs": 7.41, "fc": 7.6, "k": "forecast too windy"}
    ]
  },
  "vconcat": [
    {
      "width": 1155,
      "height": 293,
      "title": {"text": "Temperature (°C)", "fontSize": 21, "fontWeight": "normal", "font": "DejaVu Sans", "color": "#222222", "offset": -43, "anchor": "middle"},
      "resolve": {"axis": {"x": "independent", "y": "independent"}},
      "layer": [
        {
          "data": {"values": [{}]},
          "mark": {"type": "rect", "fill": "transparent", "stroke": "#3a3a3a", "strokeWidth": 2},
          "encoding": {
            "x": {"datum": {"year": 2021, "month": 5, "date": 1, "hours": 16, "minutes": 20, "seconds": 36}, "type": "temporal", "axis": {"orient": "bottom", "tickCount": 80, "labels": false, "ticks": true, "tickSize": -4, "tickColor": "#a8a8a8", "tickWidth": 1, "domain": false, "grid": false, "title": null}},
            "x2": {"datum": {"year": 2021, "month": 5, "date": 12, "hours": 17, "minutes": 50}},
            "y": {"datum": 43.55, "type": "quantitative", "axis": null},
            "y2": {"datum": 10.44}
          }
        },
        {
          "data": {"name": "tobs"},
          "mark": {"type": "rule", "strokeWidth": 1.5, "opacity": 0.15},
          "encoding": {
            "x": {"field": "t", "type": "temporal", "scale": {"domain": [{"year": 2021, "month": 5, "date": 2, "hours": 6}, {"year": 2021, "month": 5, "date": 12, "hours": 5}], "nice": false},
              "axis": {"orient": "bottom", "values": [{"year": 2021, "month": 5, "date": 3}, {"year": 2021, "month": 5, "date": 4}, {"year": 2021, "month": 5, "date": 5}, {"year": 2021, "month": 5, "date": 6}, {"year": 2021, "month": 5, "date": 7}, {"year": 2021, "month": 5, "date": 8}, {"year": 2021, "month": 5, "date": 9}, {"year": 2021, "month": 5, "date": 10}, {"year": 2021, "month": 5, "date": 11}, {"year": 2021, "month": 5, "date": 12}], "labels": false, "ticks": false, "domain": false, "grid": true, "gridColor": "#9a9a9a", "gridDash": [2, 3], "gridWidth": 1, "title": null}},
            "y": {"field": "obs", "type": "quantitative", "scale": {"domain": [20, 40], "nice": false, "zero": false}, "axis": {"orient": "left", "values": [20, 25, 30, 35, 40], "grid": true, "gridColor": "#ababab", "gridWidth": 1.5, "ticks": false, "domain": false, "labelPadding": 8, "labelFlush": true, "title": null}},
            "y2": {"field": "fc"},
            "color": {
              "field": "k", "type": "nominal",
              "scale": {"domain": ["forecast too warm", "forecast too cold"], "range": ["#f47d20", "#27b5e8"]},
              "legend": {"orient": "bottom", "direction": "horizontal", "title": null, "offset": 4, "padding": 0, "labelFontSize": 20, "labelFont": "DejaVu Sans", "labelColor": "#333333", "labelLimit": 500, "columnPadding": 53, "symbolType": "stroke", "symbolStrokeWidth": 14, "symbolSize": 2601, "symbolOpacity": 1, "symbolOffset": -8, "labelOffset": -1}
            }
          }
        },
        {
          "data": {"name": "tobs"},
          "mark": {"type": "point", "shape": "diamond", "filled": false, "stroke": "#787878", "strokeWidth": 1.5, "size": 100, "opacity": 1},
          "encoding": {
            "x": {"field": "t", "type": "temporal", "axis": {"orient": "bottom", "offset": 48, "values": [{"year": 2021, "month": 5, "date": 3}, {"year": 2021, "month": 5, "date": 5}, {"year": 2021, "month": 5, "date": 7}, {"year": 2021, "month": 5, "date": 9}, {"year": 2021, "month": 5, "date": 11}], "format": "%a %d.%b", "labelPadding": 12, "domain": true, "domainColor": "#c4c4c4", "domainWidth": 2, "ticks": true, "tickSize": 4, "tickColor": "#c4c4c4", "grid": false, "labelFlush": false, "labelOverlap": false, "title": null}},
            "y": {"field": "obs", "type": "quantitative", "axis": {"orient": "left", "values": [21, 22, 23, 24, 26, 27, 28, 29, 31, 32, 33, 34, 36, 37, 38, 39], "labels": false, "ticks": true, "tickSize": -17, "tickColor": "#b0b0b0", "tickWidth": 1.2, "domain": false, "grid": false, "title": null}}
          }
        },
        {
          "data": {"name": "tfc"},
          "mark": {"type": "line", "color": "#1c1c1c", "strokeWidth": 2.6, "interpolate": "monotone"},
          "encoding": {
            "x": {"field": "t", "type": "temporal", "axis": {"orient": "bottom", "values": [{"year": 2021, "month": 5, "date": 2, "hours": 12}, {"year": 2021, "month": 5, "date": 2, "hours": 18}, {"year": 2021, "month": 5, "date": 3, "hours": 0}, {"year": 2021, "month": 5, "date": 3, "hours": 6}, {"year": 2021, "month": 5, "date": 3, "hours": 12}, {"year": 2021, "month": 5, "date": 3, "hours": 18}, {"year": 2021, "month": 5, "date": 4, "hours": 0}, {"year": 2021, "month": 5, "date": 4, "hours": 6}, {"year": 2021, "month": 5, "date": 4, "hours": 12}, {"year": 2021, "month": 5, "date": 4, "hours": 18}, {"year": 2021, "month": 5, "date": 5, "hours": 0}, {"year": 2021, "month": 5, "date": 5, "hours": 6}, {"year": 2021, "month": 5, "date": 5, "hours": 12}, {"year": 2021, "month": 5, "date": 5, "hours": 18}, {"year": 2021, "month": 5, "date": 6, "hours": 0}, {"year": 2021, "month": 5, "date": 6, "hours": 6}, {"year": 2021, "month": 5, "date": 6, "hours": 12}, {"year": 2021, "month": 5, "date": 6, "hours": 18}, {"year": 2021, "month": 5, "date": 7, "hours": 0}, {"year": 2021, "month": 5, "date": 7, "hours": 6}, {"year": 2021, "month": 5, "date": 7, "hours": 12}, {"year": 2021, "month": 5, "date": 7, "hours": 18}, {"year": 2021, "month": 5, "date": 8, "hours": 0}, {"year": 2021, "month": 5, "date": 8, "hours": 6}, {"year": 2021, "month": 5, "date": 8, "hours": 12}, {"year": 2021, "month": 5, "date": 8, "hours": 18}, {"year": 2021, "month": 5, "date": 9, "hours": 0}, {"year": 2021, "month": 5, "date": 9, "hours": 6}, {"year": 2021, "month": 5, "date": 9, "hours": 12}, {"year": 2021, "month": 5, "date": 9, "hours": 18}, {"year": 2021, "month": 5, "date": 10, "hours": 0}, {"year": 2021, "month": 5, "date": 10, "hours": 6}, {"year": 2021, "month": 5, "date": 10, "hours": 12}, {"year": 2021, "month": 5, "date": 10, "hours": 18}, {"year": 2021, "month": 5, "date": 11, "hours": 0}, {"year": 2021, "month": 5, "date": 11, "hours": 6}, {"year": 2021, "month": 5, "date": 11, "hours": 12}, {"year": 2021, "month": 5, "date": 11, "hours": 18}, {"year": 2021, "month": 5, "date": 12, "hours": 0}], "format": "%H", "labelPadding": 17, "ticks": false, "tickSize": 0, "domain": false, "grid": false, "labelFlush": false, "labelOverlap": false, "title": null}},
            "y": {"field": "fc", "type": "quantitative", "axis": {"orient": "right", "values": [21, 22, 23, 24, 26, 27, 28, 29, 31, 32, 33, 34, 36, 37, 38, 39], "labels": false, "ticks": true, "tickSize": -17, "tickColor": "#b0b0b0", "tickWidth": 1.2, "domain": false, "grid": false, "title": null}}
          }
        },
        {
          "data": {"values": [{}]},
          "mark": {"type": "text", "text": "Local Time: IST", "align": "right", "baseline": "middle", "fontSize": 20, "font": "DejaVu Sans", "color": "#333333"},
          "encoding": {
            "x": {"datum": {"year": 2021, "month": 5, "date": 12, "hours": 5}, "type": "temporal", "axis": {"orient": "top", "tickCount": 80, "labels": false, "ticks": true, "tickSize": -4, "tickColor": "#a8a8a8", "tickWidth": 1, "domain": false, "grid": false, "title": null}},
            "y": {"datum": 11.877, "type": "quantitative", "axis": null}
          }
        }
      ]
    },
    {
      "width": 1161,
      "height": 294,
      "title": {"text": "Wind (km/h)", "fontSize": 21, "fontWeight": "normal", "font": "DejaVu Sans", "color": "#222222", "offset": -31, "anchor": "middle"},
      "resolve": {"axis": {"x": "independent", "y": "independent"}},
      "layer": [
        {
          "data": {"values": [{}]},
          "mark": {"type": "rule", "stroke": "#3a3a3a", "strokeWidth": 2},
          "encoding": {
            "x": {"datum": {"year": 2021, "month": 5, "date": 1, "hours": 16, "minutes": 25}, "type": "temporal", "axis": {"orient": "top", "tickCount": 80, "labels": false, "ticks": true, "tickSize": -4, "tickColor": "#a8a8a8", "tickWidth": 1, "domain": false, "grid": false, "title": null}},
            "x2": {"datum": {"year": 2021, "month": 5, "date": 12, "hours": 16, "minutes": 32}},
            "y": {"datum": 22.789, "type": "quantitative", "axis": null}
          }
        },
        {
          "data": {"values": [{}]},
          "mark": {"type": "rule", "stroke": "#3a3a3a", "strokeWidth": 2},
          "encoding": {
            "x": {"datum": {"year": 2021, "month": 5, "date": 1, "hours": 16, "minutes": 25}, "type": "temporal", "axis": {"orient": "bottom", "tickCount": 80, "labels": false, "ticks": true, "tickSize": -4, "tickColor": "#a8a8a8", "tickWidth": 1, "domain": false, "grid": false, "title": null}},
            "y": {"datum": 22.789, "type": "quantitative", "axis": null},
            "y2": {"datum": -8.4}
          }
        },
        {
          "data": {"values": [{}]},
          "mark": {"type": "rule", "stroke": "#3a3a3a", "strokeWidth": 2},
          "encoding": {
            "x": {"datum": {"year": 2021, "month": 5, "date": 12, "hours": 16, "minutes": 32}, "type": "temporal", "axis": null},
            "y": {"datum": 22.789, "type": "quantitative", "axis": null},
            "y2": {"datum": -8.4}
          }
        },
        {
          "data": {"name": "wobs"},
          "mark": {"type": "rule", "strokeWidth": 1.5},
          "encoding": {
            "x": {"field": "t", "type": "temporal", "scale": {"domain": [{"year": 2021, "month": 5, "date": 2, "hours": 6}, {"year": 2021, "month": 5, "date": 12, "hours": 5}], "nice": false},
              "axis": {"orient": "bottom", "values": [{"year": 2021, "month": 5, "date": 3}, {"year": 2021, "month": 5, "date": 4}, {"year": 2021, "month": 5, "date": 5}, {"year": 2021, "month": 5, "date": 6}, {"year": 2021, "month": 5, "date": 7}, {"year": 2021, "month": 5, "date": 8}, {"year": 2021, "month": 5, "date": 9}, {"year": 2021, "month": 5, "date": 10}, {"year": 2021, "month": 5, "date": 11}, {"year": 2021, "month": 5, "date": 12}], "labels": false, "ticks": false, "domain": false, "grid": true, "gridColor": "#9a9a9a", "gridDash": [2, 3], "gridWidth": 1, "title": null}},
            "y": {"field": "obs", "type": "quantitative", "scale": {"domain": [0, 20], "nice": false, "zero": false}, "axis": {"orient": "left", "values": [0, 5, 10, 15, 20], "grid": true, "gridColor": "#ababab", "gridWidth": 1.5, "ticks": false, "domain": false, "labelPadding": 8, "labelFlush": true, "title": null}},
            "y2": {"field": "fc"},
            "color": {
              "field": "k", "type": "nominal",
              "scale": {"domain": ["forecast too windy", "too little wind in forecast"], "range": ["#a9dba5", "#e0e0e0"]},
              "legend": {"orient": "bottom", "direction": "horizontal", "title": null, "offset": -10, "padding": 0, "labelFontSize": 20, "labelFont": "DejaVu Sans", "labelColor": "#333333", "labelLimit": 500, "columnPadding": 51, "symbolType": "stroke", "symbolStrokeWidth": 14, "symbolSize": 2601, "symbolOpacity": 1, "symbolOffset": -8, "labelOffset": -1}
            }
          }
        },
        {
          "data": {"name": "wobs"},
          "mark": {"type": "point", "shape": "diamond", "filled": false, "stroke": "#787878", "strokeWidth": 1.5, "size": 100, "opacity": 1},
          "encoding": {
            "x": {"field": "t", "type": "temporal", "axis": {"orient": "bottom", "offset": 49, "values": [{"year": 2021, "month": 5, "date": 3}, {"year": 2021, "month": 5, "date": 5}, {"year": 2021, "month": 5, "date": 7}, {"year": 2021, "month": 5, "date": 9}, {"year": 2021, "month": 5, "date": 11}], "format": "%a %d.%b", "labelPadding": 12, "domain": true, "domainColor": "#c4c4c4", "domainWidth": 2, "ticks": true, "tickSize": 4, "tickColor": "#c4c4c4", "grid": false, "labelFlush": false, "labelOverlap": false, "title": null}},
            "y": {"field": "obs", "type": "quantitative", "axis": {"orient": "left", "values": [1, 2, 3, 4, 6, 7, 8, 9, 11, 12, 13, 14, 16, 17, 18, 19], "labels": false, "ticks": true, "tickSize": -17, "tickColor": "#b0b0b0", "tickWidth": 1.2, "domain": false, "grid": false, "title": null}}
          }
        },
        {
          "data": {"name": "wfc"},
          "mark": {"type": "line", "color": "#1c1c1c", "strokeWidth": 2.6},
          "encoding": {
            "x": {"field": "t", "type": "temporal", "axis": {"orient": "bottom", "values": [{"year": 2021, "month": 5, "date": 2, "hours": 12}, {"year": 2021, "month": 5, "date": 2, "hours": 18}, {"year": 2021, "month": 5, "date": 3, "hours": 0}, {"year": 2021, "month": 5, "date": 3, "hours": 6}, {"year": 2021, "month": 5, "date": 3, "hours": 12}, {"year": 2021, "month": 5, "date": 3, "hours": 18}, {"year": 2021, "month": 5, "date": 4, "hours": 0}, {"year": 2021, "month": 5, "date": 4, "hours": 6}, {"year": 2021, "month": 5, "date": 4, "hours": 12}, {"year": 2021, "month": 5, "date": 4, "hours": 18}, {"year": 2021, "month": 5, "date": 5, "hours": 0}, {"year": 2021, "month": 5, "date": 5, "hours": 6}, {"year": 2021, "month": 5, "date": 5, "hours": 12}, {"year": 2021, "month": 5, "date": 5, "hours": 18}, {"year": 2021, "month": 5, "date": 6, "hours": 0}, {"year": 2021, "month": 5, "date": 6, "hours": 6}, {"year": 2021, "month": 5, "date": 6, "hours": 12}, {"year": 2021, "month": 5, "date": 6, "hours": 18}, {"year": 2021, "month": 5, "date": 7, "hours": 0}, {"year": 2021, "month": 5, "date": 7, "hours": 6}, {"year": 2021, "month": 5, "date": 7, "hours": 12}, {"year": 2021, "month": 5, "date": 7, "hours": 18}, {"year": 2021, "month": 5, "date": 8, "hours": 0}, {"year": 2021, "month": 5, "date": 8, "hours": 6}, {"year": 2021, "month": 5, "date": 8, "hours": 12}, {"year": 2021, "month": 5, "date": 8, "hours": 18}, {"year": 2021, "month": 5, "date": 9, "hours": 0}, {"year": 2021, "month": 5, "date": 9, "hours": 6}, {"year": 2021, "month": 5, "date": 9, "hours": 12}, {"year": 2021, "month": 5, "date": 9, "hours": 18}, {"year": 2021, "month": 5, "date": 10, "hours": 0}, {"year": 2021, "month": 5, "date": 10, "hours": 6}, {"year": 2021, "month": 5, "date": 10, "hours": 12}, {"year": 2021, "month": 5, "date": 10, "hours": 18}, {"year": 2021, "month": 5, "date": 11, "hours": 0}, {"year": 2021, "month": 5, "date": 11, "hours": 6}, {"year": 2021, "month": 5, "date": 11, "hours": 12}, {"year": 2021, "month": 5, "date": 11, "hours": 18}, {"year": 2021, "month": 5, "date": 12, "hours": 0}], "format": "%H", "labelPadding": 18, "ticks": false, "tickSize": 0, "domain": false, "grid": false, "labelFlush": false, "labelOverlap": false, "title": null}},
            "y": {"field": "v", "type": "quantitative", "axis": {"orient": "right", "values": [1, 2, 3, 4, 6, 7, 8, 9, 11, 12, 13, 14, 16, 17, 18, 19], "labels": false, "ticks": true, "tickSize": -17, "tickColor": "#b0b0b0", "tickWidth": 1.2, "domain": false, "grid": false, "title": null}}
          }
        }
      ]
    }
  ]
}
